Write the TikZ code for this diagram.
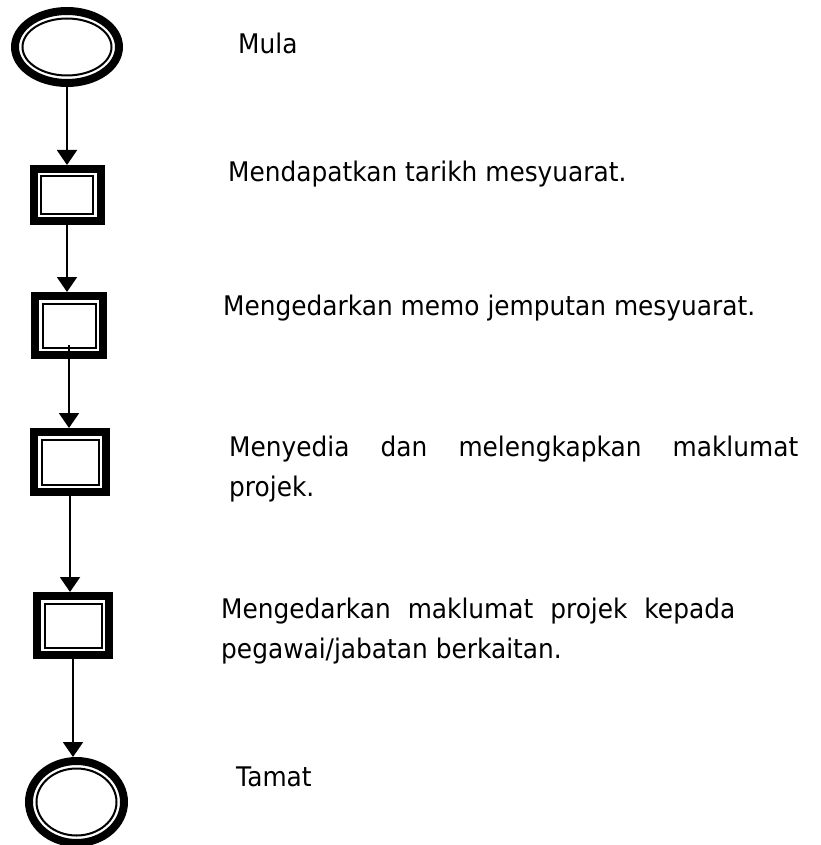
\documentclass[tikz,border=0pt]{standalone}
\usepackage{fontspec}
\setmainfont[FakeStretch=0.92]{DejaVu Sans}
\usetikzlibrary{arrows.meta}
\usetikzlibrary{shapes.geometric}
\hyphenpenalty=10000
\exhyphenpenalty=10000
\tolerance=10000

\begin{document}
\begin{tikzpicture}[
    x=1pt, y=-1pt,
    every node/.style={
        inner sep=0pt
    },
    term/.style 2 args={
        ellipse, draw, line width=8pt,
        minimum width=#1, minimum height=#2,
        path picture={
            \draw[line width=2pt] (path picture bounding box.center)
                ellipse ({#1/2-7.5pt} and {#2/2-7.5pt});
        }
    },
    proc/.style 2 args={
        rectangle, draw, line width=8pt,
        minimum width=#1, minimum height=#2,
        path picture={
            \draw[line width=2pt]
                ([shift={(7.5,7.5)}]path picture bounding box.north west)
                rectangle
                ([shift={(-7.5,-7.5)}]path picture bounding box.south east);
        }
    },
    arr/.style={
        line width=2pt,
        -{Triangle[length=15pt,width=20pt]}
    },
    txt/.style={
        anchor=base west,
        font=\fontsize{27}{40}\selectfont
    },
    para/.style={
        txt, text width=#1, align=justify
    }
]
    \useasboundingbox (0,0) rectangle (820,845);

    \node[term={104pt}{72pt}] (start) at (67,47) {};
    \node[proc={67pt}{52pt}] (date) at (67,195) {};
    \node[proc={68pt}{59pt}] (memo) at (69,325.5) {};
    \node[proc={72pt}{60pt}] (prep) at (70,462) {};
    \node[proc={72pt}{59pt}] (send) at (73,625.5) {};
    \node[term={95pt}{82pt}] (stop) at (76.5,802) {};

    \node[txt] (lstart) at (238,54) {Mula};
    \node[txt] (ldate) at (228,182) {Mendapatkan tarikh mesyuarat.};
    \node[txt] (lmemo) at (223,315) {Mengedarkan memo jemputan mesyuarat.};
    \node[para=569pt] (lprep) at (229,456)
        {Menyedia dan melengkapkan maklumat projek.};
    \node[para=514pt] (lsend) at (221,618)
        {Mengedarkan maklumat projek kepada pegawai/jabatan berkaitan.};
    \node[txt] (lstop) at (236,786) {Tamat};

    \path (start.south) edge[arr] (start.south |- date.north);
    \path (date.south) edge[arr] (date.south |- memo.north);
    \path ([yshift=14pt]memo.south) edge[arr] (memo.south |- prep.north);
    \path (prep.south) edge[arr] (prep.south |- send.north);
    \path (send.south) edge[arr] (send.south |- stop.north);

\end{tikzpicture}
\end{document}
